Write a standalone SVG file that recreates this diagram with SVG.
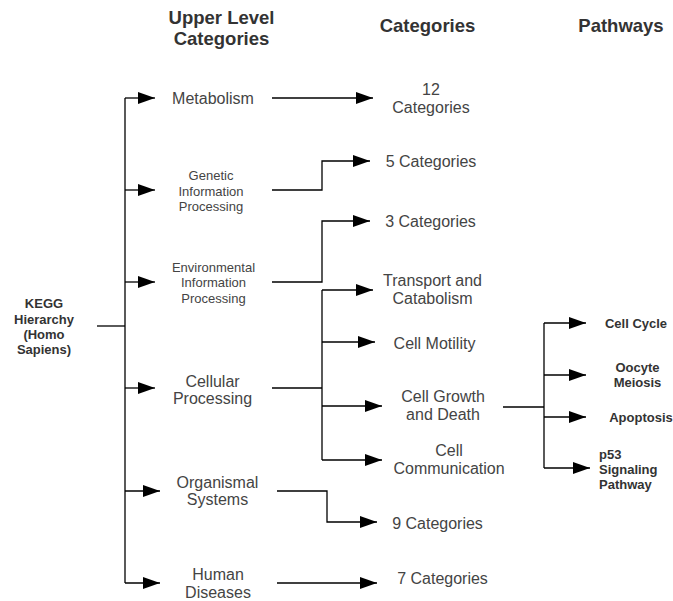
<svg xmlns="http://www.w3.org/2000/svg" width="673" height="601" viewBox="0 0 673 601">
<style>
text{font-family:"Liberation Sans",Arial,sans-serif;fill:#444;text-anchor:middle}
.h{font-weight:bold;font-size:18.5px;fill:#333}
.m{font-size:16px}
.s{font-size:13px}
.b{font-weight:bold;font-size:13px;fill:#333}
.l{text-anchor:start}
.c{fill:none;stroke:#000;stroke-width:1.3}
</style>
<defs>
<marker id="a" markerUnits="userSpaceOnUse" markerWidth="18" markerHeight="13" refX="17" refY="6" orient="auto">
<path d="M0,0 L17,6 L0,12 Z" fill="#000"/>
</marker>
</defs>
<g id="headers">
<text class="h" x="221.5" y="23.5">Upper Level</text>
<text class="h" x="221.5" y="44.5">Categories</text>
<text class="h" x="427.5" y="31.5">Categories</text>
<text class="h" x="621" y="31.5">Pathways</text>
</g>
<g id="connectors">
<path class="c" d="M97,326 H125"/>
<path class="c" d="M125,98 V583"/>
<path class="c" d="M125,98 H155" marker-end="url(#a)"/>
<path class="c" d="M125,190 H155" marker-end="url(#a)"/>
<path class="c" d="M125,282 H155" marker-end="url(#a)"/>
<path class="c" d="M125,388 H155" marker-end="url(#a)"/>
<path class="c" d="M125,491 H160" marker-end="url(#a)"/>
<path class="c" d="M125,583 H160" marker-end="url(#a)"/>
<path class="c" d="M272,98 H373" marker-end="url(#a)"/>
<path class="c" d="M272,190 H322 V161 H370" marker-end="url(#a)"/>
<path class="c" d="M272,282 H322 V221 H370" marker-end="url(#a)"/>
<path class="c" d="M272,388 H322"/>
<path class="c" d="M322,290 V460"/>
<path class="c" d="M322,290 H373" marker-end="url(#a)"/>
<path class="c" d="M322,342 H375" marker-end="url(#a)"/>
<path class="c" d="M322,406 H382" marker-end="url(#a)"/>
<path class="c" d="M322,460 H382" marker-end="url(#a)"/>
<path class="c" d="M277,491 H327 V522 H377" marker-end="url(#a)"/>
<path class="c" d="M277,583 H377" marker-end="url(#a)"/>
<path class="c" d="M503,407 H544"/>
<path class="c" d="M544,323 V468"/>
<path class="c" d="M544,323 H586" marker-end="url(#a)"/>
<path class="c" d="M544,375 H586" marker-end="url(#a)"/>
<path class="c" d="M544,417 H586" marker-end="url(#a)"/>
<path class="c" d="M544,468 H590" marker-end="url(#a)"/>
</g>
<g id="kegg">
<text class="b" x="44" y="307.5">KEGG</text>
<text class="b" x="44" y="323.5">Hierarchy</text>
<text class="b" x="44" y="338.5">(Homo</text>
<text class="b" x="44" y="353.5">Sapiens)</text>
</g>
<g id="metabolism"><text class="m" x="213" y="104">Metabolism</text></g>
<g id="genetic">
<text class="s" x="211" y="179.5">Genetic</text>
<text class="s" x="211" y="195.5">Information</text>
<text class="s" x="211" y="210.5">Processing</text>
</g>
<g id="environmental">
<text class="s" x="213.5" y="271.5">Environmental</text>
<text class="s" x="213.5" y="286.5">Information</text>
<text class="s" x="213.5" y="302.5">Processing</text>
</g>
<g id="cellular">
<text class="m" x="212.5" y="386.5">Cellular</text>
<text class="m" x="212.5" y="403.5">Processing</text>
</g>
<g id="organismal">
<text class="m" x="217.5" y="487.5">Organismal</text>
<text class="m" x="217.5" y="504.5">Systems</text>
</g>
<g id="human">
<text class="m" x="218" y="579.5">Human</text>
<text class="m" x="218" y="597.5">Diseases</text>
</g>
<g id="cat12">
<text class="m" x="431" y="94.5">12</text>
<text class="m" x="431" y="112.5">Categories</text>
</g>
<g id="cat5"><text class="m" x="431" y="166.5">5 Categories</text></g>
<g id="cat3"><text class="m" x="430.5" y="226.5">3 Categories</text></g>
<g id="transport">
<text class="m" x="432.5" y="285.5">Transport and</text>
<text class="m" x="432.5" y="303.5">Catabolism</text>
</g>
<g id="motility"><text class="m" x="434.5" y="348.5">Cell Motility</text></g>
<g id="growth">
<text class="m" x="443" y="401.5">Cell Growth</text>
<text class="m" x="443" y="419.5">and Death</text>
</g>
<g id="communication">
<text class="m" x="449" y="455.5">Cell</text>
<text class="m" x="449" y="473.5">Communication</text>
</g>
<g id="cat9"><text class="m" x="437.5" y="528.5">9 Categories</text></g>
<g id="cat7"><text class="m" x="442.5" y="583.5">7 Categories</text></g>
<g id="cellcycle"><text class="b" x="636" y="327.5">Cell Cycle</text></g>
<g id="oocyte">
<text class="b" x="637.5" y="371.5">Oocyte</text>
<text class="b" x="637.5" y="386.5">Meiosis</text>
</g>
<g id="apoptosis"><text class="b" x="641" y="421.5">Apoptosis</text></g>
<g id="p53">
<text class="b l" x="599" y="458.5">p53</text>
<text class="b l" x="599" y="473.5">Signaling</text>
<text class="b l" x="599" y="488.5">Pathway</text>
</g>
</svg>
